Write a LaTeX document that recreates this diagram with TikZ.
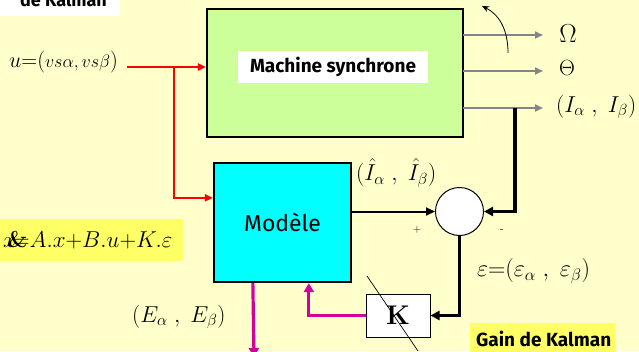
\RequirePackage{fix-cm}
\documentclass[tikz,border=0pt]{standalone}
\usepackage{fontspec}
\usetikzlibrary{arrows.meta,calc}
\newfontfamily\comic{Fira Sans}
\definecolor{bgy}{HTML}{FFFFCC}
\definecolor{machg}{HTML}{CCFF99}
\definecolor{modc}{HTML}{00FFFF}
\definecolor{pinkc}{HTML}{D4009A}
\definecolor{labely}{HTML}{FFFF66}
\definecolor{grayc}{HTML}{858585}
\definecolor{redc}{HTML}{FF0000}
\tikzset{
  blockbox/.style={draw=black,line width=2.3pt,inner sep=0pt,anchor=center},
  mathlbl/.style={inner sep=0pt,font=\fontsize{23}{27}\selectfont},
  grayarrow/.style={draw=grayc,line width=2pt,-{Triangle[length=8pt,width=7pt]}},
  redarrow/.style={draw=redc,line width=2pt,-{Triangle[length=8pt,width=7pt]}},
  blackarrow/.style={draw=black,line width=3.2pt,-{Triangle[length=9pt,width=9pt]}},
  midarrow/.style={draw=black,line width=2pt,-{Triangle[length=9pt,width=8pt]}},
  pinkarrow/.style={draw=pinkc,line width=3.2pt,-{Triangle[length=9pt,width=10pt]}},
}
\begin{document}
\begin{tikzpicture}[x=1pt,y=-1pt]
\useasboundingbox (0,0) rectangle (639,351);
\clip (0,0) rectangle (639,351);
\fill[bgy] (0,0) rectangle (639,351);
% top-left label
\fill[white] (0,0) rectangle (120,16);
\node[inner sep=0pt,anchor=base east,font=\comic\bfseries\fontsize{18}{20}\selectfont] (title) at (107,6) {de Kalman};
% machine block
\node[blockbox,fill=machg,minimum width=256pt,minimum height=128pt] (ms) at (335,73) {};
\node[fill=white,minimum width=190pt,minimum height=32pt,inner sep=0pt,font=\comic\bfseries\fontsize{19}{22}\selectfont] (msl) at (333,67) {Machine synchrone};
% model block
\node[blockbox,fill=modc,minimum width=137pt,minimum height=119pt,font=\comic\fontsize{23}{26}\selectfont] (mod) at (282.5,222.5) {Modèle};
% comparator
\node[circle,draw=black,line width=1pt,fill=white,minimum size=48pt,inner sep=0pt] (cmp) at (459.5,211.5) {};
% K block
\node[draw=black,line width=1pt,fill=white,minimum width=64pt,minimum height=43pt,inner sep=0pt,font=\bfseries\fontsize{27}{30}\selectfont] (K) at (398,315.5) {K};
\coordinate (dg1) at (367,276);
\coordinate (dg2) at (418,351);
\draw[line width=0.7pt] (dg1) -- (dg2);
% outputs
\node[mathlbl,font=\fontsize{26}{30}\selectfont] (om) at (568,34) {$\Omega$};
\node[mathlbl,font=\fontsize{22}{26}\selectfont] (th) at (567,68) {$\Theta$};
\node[mathlbl,anchor=west] (il) at (556,107) {$(I_\alpha\;,\;I_\beta)$};
\coordinate (o1) at (463,35);
\coordinate (o1e) at (543,35);
\coordinate (o2) at (463,71);
\coordinate (o2e) at (543,71);
\coordinate (o3) at (463,108);
\coordinate (o3e) at (543,108);
\draw[grayarrow] (o1) -- (o1e);
\draw[grayarrow] (o2) -- (o2e);
\draw[grayarrow] (o3) -- (o3e);
% curved arrow
\coordinate (ca1) at (508,53);
\coordinate (ca2) at (482,6);
\draw[line width=0.8pt,-{Stealth[length=7pt,width=6pt]}] (ca1) .. controls (508,28) and (498,14) .. (ca2);
% input
\node[inner sep=0pt,anchor=west] (ul) at (9,62) {\fontsize{22}{26}\selectfont$u{=}\Bigl(\mbox{\fontsize{18}{20}\selectfont$v{s}\alpha,v{s}\beta$}\Bigr)$};
\coordinate (uin) at (127,67);
\coordinate (br) at (174,67);
\draw[redarrow] (uin) -- (ms.west |- uin);
\draw[redarrow] (br) |- ($(mod.north west)+(0,36)$);
% equation
\node[fill=labely,anchor=north west,minimum width=183pt,minimum height=42pt,inner sep=0pt] (eqbox) at (0,219) {};
\node[inner sep=0pt,anchor=west,font=\fontsize{23}{27}\selectfont] (eq) at (3,240) {$x$\kern-0.38em{\bfseries\&}\kern-0.62em${=}A.x{+}B.u{+}K.\varepsilon$};
% feedback loop
\node[mathlbl,anchor=west] (ihat) at (356,173) {$(\hat{I}_\alpha\;,\;\hat{I}_\beta)$};
\draw[midarrow] (mod.east |- cmp.west) -- (cmp.west);
\coordinate (tap) at (515,108);
\draw[blackarrow] (tap) |- (cmp.east);
\draw[blackarrow] (cmp.south) |- (K.east);
\node[inner sep=0pt,font=\sffamily\fontsize{11}{12}\selectfont] (plus) at (417,230) {+};
\node[inner sep=0pt,font=\sffamily\fontsize{11}{12}\selectfont] (minus) at (502,231) {-};
\node[mathlbl,anchor=west,font=\fontsize{24}{28}\selectfont] (epsl) at (477,271) {$\varepsilon{=}(\varepsilon_\alpha\;,\;\varepsilon_\beta)$};
% pink
\draw[pinkarrow] (K.west) -| ($(mod.south west)+(96,0)$);
\coordinate (eout) at (254,357);
\draw[pinkarrow] ($(mod.south west)+(40,0)$) -- (eout);
\node[mathlbl,anchor=west] (el) at (132,317) {$(E_\alpha\;,\;E_\beta)$};
% gain label
\node[fill=labely,anchor=north west,minimum width=145pt,minimum height=34pt,inner sep=0pt] (gbox) at (470,323) {};
\node[inner sep=0pt,anchor=west,font=\comic\bfseries\fontsize{19}{22}\selectfont] (gain) at (476,339) {Gain de Kalman};
\end{tikzpicture}
\end{document}
